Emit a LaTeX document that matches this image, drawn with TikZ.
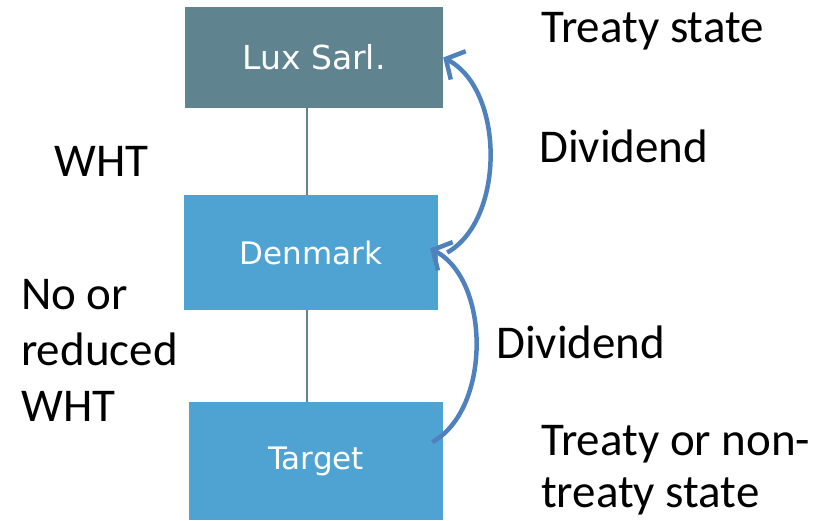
\documentclass[tikz,border=0pt]{standalone}
\usepackage{fontspec}
\setmainfont{Carlito}
\newfontfamily\boxfont{DejaVu Sans}
\usetikzlibrary{arrows.meta}

\definecolor{luxgrey}{HTML}{5F848F}
\definecolor{boxblue}{HTML}{4FA3D2}
\definecolor{linkgrey}{HTML}{5F8590}
\definecolor{flowblue}{HTML}{4F81BD}

\begin{document}
\begin{tikzpicture}[x=1pt, y=1pt,
		entity/.style={fill=boxblue, text=white, inner sep=0pt,
			font=\boxfont\fontsize{31}{36}\selectfont},
		link/.style={draw=linkgrey, line width=1.5pt},
		flow/.style={draw=flowblue, line width=4.5pt,
			-{Straight Barb[length=14pt, width=32pt]}},
		note/.style={anchor=base west, inner sep=0pt,
			font=\fontsize{47}{56}\selectfont}]
		\useasboundingbox (0,0) rectangle (829,520);

		% companies
		\node[entity, fill=luxgrey, minimum width=258pt, minimum height=101pt] (lux) at (314,462.5) {\fontsize{33}{36}\selectfont Lux Sarl.};
		\node[entity, minimum width=254pt, minimum height=115pt] (den) at (311,267.5) {Denmark};
		\node[entity, minimum width=254pt, minimum height=118pt] (tgt) at (316,59) {Target};

		\draw[link] ([xshift=-7pt]lux.south) -- ([xshift=-4pt]den.north);
		\draw[link] ([xshift=-4pt]den.south) -- ([xshift=-9pt]tgt.north);

		% dividend flows
		\draw[flow] ([xshift=9pt]den.east) .. controls (505,300) and (505,430) .. (lux.east);
		\draw[flow] ([xshift=-11pt, yshift=19pt]tgt.east) .. controls (491,110) and (491,240) .. ([xshift=-8pt, yshift=4pt]den.east);

		% labels
		\node[note] (treaty) at (541,477) {Treaty state};
		\node[note] (divtop) at (539,357) {Dividend};
		\node[note] (wht) at (54,343) {WHT};
		\node[note] (noor) at (21,211) {No or};
		\node[note] (reduced) at (21,155) {reduced};
		\node[note] (whtlow) at (21,99) {WHT};
		\node[note] (divlow) at (496,162) {Dividend};
		\node[note] (nontreaty) at (541,65) {Treaty or non-};
		\node[note] (nontreaty2) at (541,13) {treaty state};
\end{tikzpicture}
\end{document}
